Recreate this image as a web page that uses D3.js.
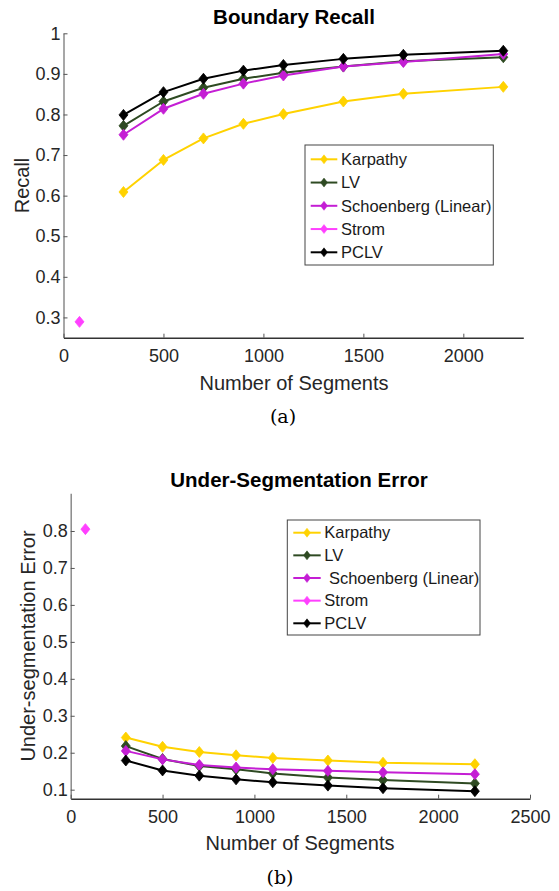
<!DOCTYPE html>
<html>
<head>
<meta charset="utf-8">
<script src="https://cdn.jsdelivr.net/npm/d3@7"></script>
<style>
  html, body { margin: 0; padding: 0; background: #fff; }
  svg { display: block; }
</style>
</head>
<body>
<svg id="chart" width="559" height="891"></svg>
<script>
// ---------- DATA ----------
const segments = [300, 500, 700, 900, 1100, 1400, 1700, 2200];
const seriesNames = ["Karpathy", "LV", "Schoenberg (Linear)", "Strom", "PCLV"];
const seriesColors = ["#FFD200", "#2E4A22", "#C41ED4", "#FF40FF", "#000000"];

// (a) Boundary Recall
const recallKarpathy   = [0.609, 0.688, 0.741, 0.777, 0.801, 0.832, 0.851, 0.868];
const recallLV         = [0.772, 0.832, 0.866, 0.888, 0.903, 0.918, 0.931, 0.941];
const recallSchoenberg = [0.750, 0.814, 0.851, 0.876, 0.896, 0.918, 0.929, 0.949];
const recallPCLV       = [0.799, 0.855, 0.888, 0.908, 0.922, 0.937, 0.947, 0.957];
const stromSegments    = [80];
const recallStrom      = [0.289];

// (b) Under-Segmentation Error
const useKarpathy   = [0.241, 0.216, 0.202, 0.193, 0.186, 0.179, 0.173, 0.169];
const useLV         = [0.218, 0.183, 0.164, 0.155, 0.144, 0.133, 0.126, 0.117];
const useSchoenberg = [0.205, 0.182, 0.167, 0.160, 0.155, 0.151, 0.147, 0.142];
const usePCLV       = [0.179, 0.152, 0.138, 0.128, 0.120, 0.111, 0.104, 0.096];
const useStrom      = [0.805];

const recallXTicks = [0, 500, 1000, 1500, 2000];
const recallYTicks = [0.3, 0.4, 0.5, 0.6, 0.7, 0.8, 0.9, 1];
const useXTicks = [0, 500, 1000, 1500, 2000, 2500];
const useYTicks = [0.1, 0.2, 0.3, 0.4, 0.5, 0.6, 0.7, 0.8];

// ---------- DRAW ----------
const svg = d3.select("#chart");
const SANS = "'Liberation Sans', Arial, Helvetica, sans-serif";
const SERIF = "'DejaVu Serif', 'Liberation Serif', serif";

function diamond(w, h) {
  return `M0,${-h}L${w},0L0,${h}L${-w},0Z`;
}

function drawPanel(cfg) {
  const g = svg.append("g");
  const x = d3.scaleLinear().domain(cfg.xDomain).range([cfg.left, cfg.right]);
  const y = d3.scaleLinear().domain(cfg.yDomain).range([cfg.bottom, cfg.top]);

  // axes
  const yAxis = d3.axisLeft(y).tickValues(cfg.yTicks).tickSizeInner(-4).tickSizeOuter(0)
    .tickPadding(3).tickFormat(d => d3.format("")(d));
  const gy = g.append("g").attr("transform", `translate(${cfg.left},0)`).call(yAxis);
  gy.select(".domain").attr("stroke", "#8a8a8a").attr("stroke-width", 1.5);
  gy.selectAll(".tick line").attr("stroke", "#555").attr("stroke-width", 1);
  gy.selectAll(".tick text").attr("font-family", SANS).attr("font-size", 18).attr("fill", "#262626");

  const xAxis = d3.axisBottom(x).tickValues(cfg.xTicks).tickSizeInner(-4).tickSizeOuter(0)
    .tickPadding(12).tickFormat(d3.format("d"));
  const gx = g.append("g").attr("transform", `translate(0,${cfg.bottom})`).call(xAxis);
  gx.select(".domain").attr("stroke", "#333").attr("stroke-width", 1.5);
  gx.selectAll(".tick line").attr("stroke", "#555").attr("stroke-width", 1);
  gx.selectAll(".tick text").attr("font-family", SANS).attr("font-size", 18).attr("fill", "#262626");

  // series
  const line = d3.line().x((d, i) => x(d[0])).y(d => y(d[1]));
  cfg.series.forEach(s => {
    const pts = s.xs.map((v, i) => [v, s.ys[i]]);
    if (pts.length > 1) {
      g.append("path").datum(pts).attr("d", line)
        .attr("fill", "none").attr("stroke", s.color).attr("stroke-width", 2)
        .attr("stroke-linejoin", "round");
    }
    g.selectAll(null).data(pts).enter().append("path")
      .attr("d", diamond(4.5, 5.5))
      .attr("transform", d => `translate(${x(d[0])},${y(d[1])})`)
      .attr("fill", s.color).attr("stroke", s.color).attr("stroke-width", 0.8);
  });

  // title
  g.append("text").attr("x", cfg.titleX).attr("y", cfg.titleY)
    .attr("text-anchor", "middle").attr("font-family", SANS).attr("font-weight", "bold")
    .attr("font-size", 20.5).attr("fill", "#000").text(cfg.title);

  // x label
  g.append("text").attr("x", cfg.xLabelX).attr("y", cfg.xLabelY)
    .attr("text-anchor", "middle").attr("font-family", SANS).attr("font-size", 20)
    .attr("fill", "#262626").text("Number of Segments");

  // y label
  g.append("text").attr("transform", `translate(${cfg.yLabelX},${(cfg.top + cfg.bottom) / 2 + cfg.yLabelDy}) rotate(-90)`)
    .attr("text-anchor", "middle").attr("font-family", SANS).attr("font-size", 20)
    .attr("fill", "#262626").text(cfg.yLabel);

  // caption
  g.append("text").attr("x", cfg.capX).attr("y", cfg.capY)
    .attr("text-anchor", "middle").attr("font-family", SERIF).attr("font-size", 19)
    .attr("fill", "#000").text(cfg.caption);

  // legend
  const L = cfg.legend;
  g.append("rect").attr("x", L.x0).attr("y", L.y0).attr("width", L.x1 - L.x0).attr("height", L.y1 - L.y0)
    .attr("fill", "#fff").attr("stroke", "#444").attr("stroke-width", 1);
  cfg.legendItems.forEach((it, i) => {
    const yy = L.firstY + i * L.step;
    g.append("line").attr("x1", L.lineX0).attr("x2", L.lineX1).attr("y1", yy).attr("y2", yy)
      .attr("stroke", it.color).attr("stroke-width", 2);
    g.append("path").attr("d", diamond(3.5, 4.5)).attr("transform", `translate(${(L.lineX0 + L.lineX1) / 2},${yy})`)
      .attr("fill", it.color).attr("stroke", it.color).attr("stroke-width", 0.5);
    g.append("text").attr("x", L.textX).attr("y", yy).attr("dy", "0.35em")
      .attr("font-family", SANS).attr("font-size", 16.5).attr("fill", "#1a1a1a")
      .style("white-space", "pre").text(it.label);
  });
}

drawPanel({
  xDomain: [0, 2300], yDomain: [0.25, 1],
  left: 63.5, right: 523.3, top: 33.3, bottom: 337.7,
  xTicks: recallXTicks, yTicks: recallYTicks,
  series: [
    { xs: segments, ys: recallKarpathy, color: seriesColors[0] },
    { xs: segments, ys: recallLV, color: seriesColors[1] },
    { xs: segments, ys: recallSchoenberg, color: seriesColors[2] },
    { xs: stromSegments, ys: recallStrom, color: seriesColors[3] },
    { xs: segments, ys: recallPCLV, color: seriesColors[4] }
  ],
  title: "Boundary Recall", titleX: 294, titleY: 24,
  xLabelX: 294, xLabelY: 390,
  yLabel: "Recall", yLabelX: 29, yLabelDy: 0,
  caption: "(a)", capX: 283, capY: 423,
  legend: { x0: 305, x1: 493.3, y0: 145, y1: 265, firstY: 159.3, step: 23.25,
            lineX0: 310.7, lineX1: 337.3, textX: 341 },
  legendItems: seriesNames.map((n, i) => ({ label: n, color: seriesColors[i] }))
});

drawPanel({
  xDomain: [0, 2500], yDomain: [0.0756, 0.902],
  left: 70.7, right: 530, top: 493.3, bottom: 798.7,
  xTicks: useXTicks, yTicks: useYTicks,
  series: [
    { xs: segments, ys: useKarpathy, color: seriesColors[0] },
    { xs: segments, ys: useLV, color: seriesColors[1] },
    { xs: segments, ys: useSchoenberg, color: seriesColors[2] },
    { xs: stromSegments, ys: useStrom, color: seriesColors[3] },
    { xs: segments, ys: usePCLV, color: seriesColors[4] }
  ],
  title: "Under-Segmentation Error", titleX: 299, titleY: 487,
  xLabelX: 300, xLabelY: 850,
  yLabel: "Under-segmentation Error", yLabelX: 35, yLabelDy: 0,
  caption: "(b)", capX: 280, capY: 884,
  legend: { x0: 287.3, x1: 480, y0: 520, y1: 635, firstY: 532.7, step: 22.65,
            lineX0: 293.3, lineX1: 320.7, textX: 324.3 },
  legendItems: [
    { label: seriesNames[0], color: seriesColors[0] },
    { label: seriesNames[1], color: seriesColors[1] },
    { label: "\u00A0" + seriesNames[2], color: seriesColors[2] },
    { label: seriesNames[3], color: seriesColors[3] },
    { label: seriesNames[4], color: seriesColors[4] }
  ]
});
</script>
</body>
</html>
